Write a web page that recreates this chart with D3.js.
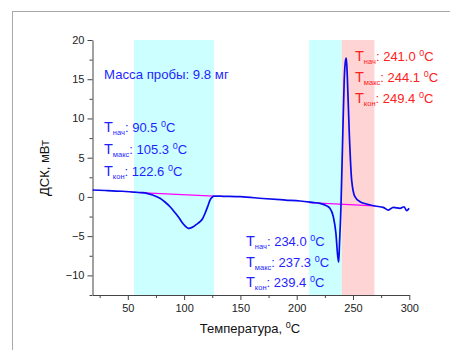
<!DOCTYPE html>
<html>
<head>
<meta charset="utf-8">
<script src="https://cdn.jsdelivr.net/npm/d3@7"></script>
<style>
  html, body { margin: 0; padding: 0; background: #fff; }
  svg { display: block; font-family: "Liberation Sans", Arial, sans-serif; }
</style>
</head>
<body>
<svg id="chart" width="450" height="350"></svg>
<script>
// DSC curve: temperature (°C) and heat flow (mW)
const temps = [18.7, 30, 45, 55, 62, 67, 72, 78.6, 83, 87.5, 91, 94.8, 99.3, 102, 103.7, 105.5,
  108.2, 111, 114.1, 116.5, 118.6, 121, 123, 125, 126.5, 135, 150, 170, 190, 203, 215, 220.6,
  226, 229.5, 232.5, 234.8, 236.4, 237.3, 238, 239.3, 240.8, 242.2, 243.5, 244.1, 244.9, 246.7,
  248.8, 251.7, 256.2, 262, 269.5, 276.9, 281.4, 285.8, 291.8, 295.4, 297.7, 299.8];
const dsc = [0.88, 0.82, 0.72, 0.62, 0.55, 0.46, 0.25, -0.18, -0.65, -1.25, -1.85, -2.52, -3.45, -3.85, -4.0, -3.98,
  -3.80, -3.5, -3.16, -2.75, -2.09, -1.2, -0.40, -0.02, 0.11, 0.08, 0.03, -0.2, -0.4, -0.52, -0.72, -0.82,
  -1.1, -1.45, -2.52, -4.6, -7.5, -8.3, -6.0, -1.25, 7.25, 14.9, 17.5, 17.7, 15.5, 8.1,
  2.15, 0.03, -0.61, -0.9, -1.16, -1.33, -1.67, -1.33, -1.45, -1.25, -1.76, -1.45];

// Shaded temperature intervals [from, to, kind]
const bandFrom = [55.5, 211, 240];
const bandTo = [126.5, 240, 269];
const bandKind = ["endo", "endo", "exo"];

// Baseline segments drawn under each peak
const baseT0 = [55.5, 211];
const baseV0 = [0.59, -0.72];
const baseT1 = [126.5, 269];
const baseV1 = [0.11, -1.15];

// Peak annotations
const sampleMass = "Масса пробы: 9.8 мг";
const peakSubs = ["нач", "макс", "кон"];
const peak1Vals = ["90.5", "105.3", "122.6"];
const peak2Vals = ["234.0", "237.3", "239.4"];
const peak3Vals = ["241.0", "244.1", "249.4"];

const xTicks = [50, 100, 150, 200, 250, 300];
const yTicks = [-10, -5, 0, 5, 10, 15, 20];

const svg = d3.select("#chart");
const axisColor = "#444";
const blue = "#1f1fff";
const red = "#ff2020";

// outer frame
svg.append("rect").attr("x", 12.5).attr("y", 11.5).attr("width", 460).attr("height", 360)
  .attr("fill", "none").attr("stroke", "#a8a8a8").attr("stroke-width", 1);

const x = d3.scaleLinear().domain([18.65, 300]).range([92.5, 409.3]);
const y = d3.scaleLinear().domain([-12.5, 20]).range([295, 40]);

// bands
const bandColor = { endo: "#ccffff", exo: "#ffd4d4" };
svg.append("g").selectAll("rect").data(bandFrom.map((d, i) => i)).join("rect")
  .attr("x", i => x(bandFrom[i]))
  .attr("width", i => x(bandTo[i]) - x(bandFrom[i]))
  .attr("y", y(20)).attr("height", y(-12.5) - y(20))
  .attr("fill", i => bandColor[bandKind[i]]);

// axes
const xAxis = svg.append("g").attr("transform", `translate(0,${y(-12.5)})`)
  .call(d3.axisBottom(x).tickValues(xTicks).tickSize(5).tickPadding(4).tickSizeOuter(0));
const xMinor = svg.append("g").attr("transform", `translate(0,${y(-12.5)})`)
  .call(d3.axisBottom(x).tickValues([25, 75, 125, 175, 225, 275]).tickSize(3).tickFormat("").tickSizeOuter(0));
xMinor.select(".domain").remove();

const yAxis = svg.append("g").attr("transform", `translate(${x(18.65)},0)`)
  .call(d3.axisLeft(y).tickValues(yTicks).tickSize(5).tickPadding(3).tickSizeOuter(0));
const yMinor = svg.append("g").attr("transform", `translate(${x(18.65)},0)`)
  .call(d3.axisLeft(y).tickValues([-12.5, -7.5, -2.5, 2.5, 7.5, 12.5, 17.5]).tickSize(3).tickFormat("").tickSizeOuter(0));
yMinor.select(".domain").remove();

[xAxis, xMinor, yAxis, yMinor].forEach(g => {
  g.selectAll("path, line").attr("stroke", axisColor).attr("stroke-width", 1);
  g.selectAll("text").attr("fill", "#222").attr("font-size", 11)
    .attr("font-family", "'Liberation Sans', Arial, sans-serif");
});

// baselines
svg.append("g").selectAll("line").data(baseT0.map((d, i) => i)).join("line")
  .attr("x1", i => x(baseT0[i])).attr("y1", i => y(baseV0[i]))
  .attr("x2", i => x(baseT1[i])).attr("y2", i => y(baseV1[i]))
  .attr("stroke", "#ff00ff").attr("stroke-width", 1.2);

// curve
const line = d3.line().x(i => x(temps[i])).y(i => y(dsc[i])).curve(d3.curveMonotoneX);
svg.append("path").datum(temps.map((d, i) => i)).attr("d", line)
  .attr("fill", "none").attr("stroke", "#0a0aee").attr("stroke-width", 1.7)
  .attr("stroke-linejoin", "round");

// axis titles
const xt = svg.append("text").attr("x", 250).attr("y", 333).attr("text-anchor", "middle")
  .attr("font-size", 13).attr("fill", "#111");
xt.append("tspan").text("Температура, ");
xt.append("tspan").attr("font-size", 9).attr("dy", -5).text("0");
xt.append("tspan").attr("dy", 5).text("C");

svg.append("text").attr("transform", "translate(49,168) rotate(-90)")
  .attr("text-anchor", "middle").attr("font-size", 13).attr("fill", "#111").text("ДСК, мВт");

// annotations
svg.append("text").attr("x", 104).attr("y", 79).attr("font-size", 13.2).attr("fill", blue).text(sampleMass);

function peakLabel(px, py, sub, val, color) {
  const t = svg.append("text").attr("x", px).attr("y", py).attr("fill", color).attr("font-size", 13);
  t.append("tspan").attr("font-size", 14.5).text("T");
  t.append("tspan").attr("font-size", 7.5).attr("dy", 3).text(sub);
  t.append("tspan").attr("dy", -3).text(": " + val + " ");
  t.append("tspan").attr("font-size", 9).attr("dy", -5).text("0");
  t.append("tspan").attr("dy", 5).text("C");
}
peakSubs.forEach((s, i) => peakLabel(104, 132 + i * 22, s, peak1Vals[i], blue));
peakSubs.forEach((s, i) => peakLabel(246, 246 + i * 20.5, s, peak2Vals[i], blue));
peakSubs.forEach((s, i) => peakLabel(355, 61 + i * 21, s, peak3Vals[i], red));
</script>
</body>
</html>
